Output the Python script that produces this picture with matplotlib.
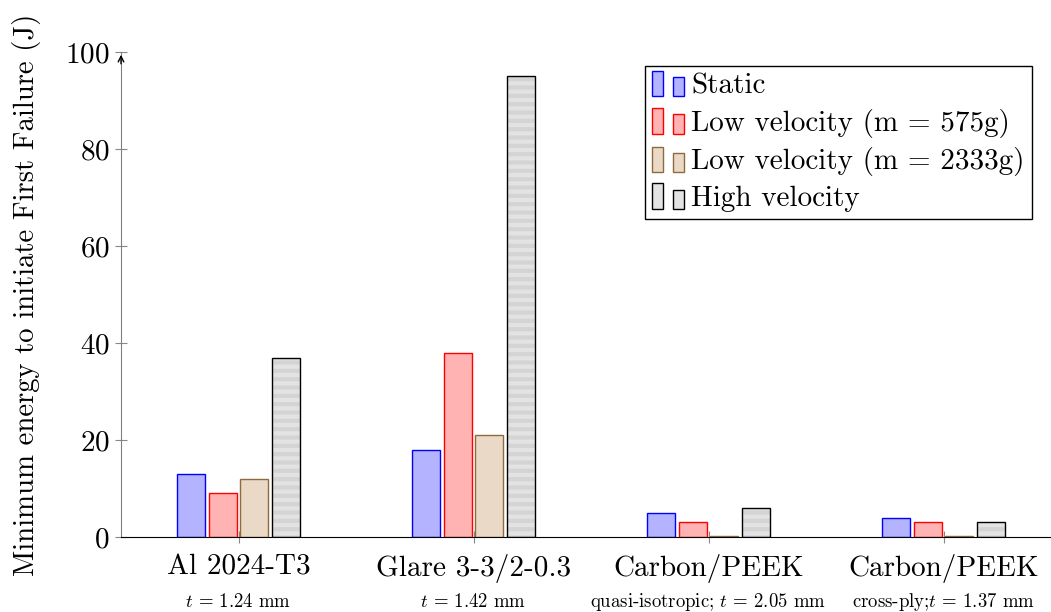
import matplotlib
matplotlib.use("Agg")
import matplotlib.pyplot as plt
from matplotlib.patches import Rectangle
from matplotlib.legend_handler import HandlerBase
import numpy as np

plt.rcParams['font.family'] = ['cmr10', 'DejaVu Serif']
plt.rcParams['mathtext.fontset'] = 'cm'
plt.rcParams['axes.formatter.use_mathtext'] = True
plt.rcParams['hatch.linewidth'] = 3.0

materials = ["Al 2024-T3", "Glare 3-3/2-0.3", "Carbon/PEEK", "Carbon/PEEK"]
thickness = [r"$t$ = 1.24 mm", r"$t$ = 1.42 mm",
             r"quasi-isotropic; $t$ = 2.05 mm", r"cross-ply;$t$ = 1.37 mm"]
series = ["Static", "Low velocity (m = 575g)", "Low velocity (m = 2333g)", "High velocity"]
static = [13, 18, 5, 4]
low_575 = [9, 38, 3, 3]
low_2333 = [12, 21, 0, 0]
high = [37, 95, 6, 3]

fills = ["#b3b3ff", "#ffb3b3", "#ead9c6", "#e3e3e3"]
edges = ["#0000ff", "#ff0000", "#8f6a3c", "#000000"]

fig = plt.figure(figsize=(10.51, 6.12), dpi=100)
ax = fig.add_axes([121/1051, 75/612, 940/1051, 485/612])

x = np.arange(len(materials))
w = 0.119
step = 0.136
data = [static, low_575, low_2333, high]
for i, vals in enumerate(data):
    pos = x + (i - 1.5) * step
    if i == 3:
        ax.bar(pos, vals, w, color=fills[i], edgecolor="#d4d4d4", hatch="--", linewidth=0, zorder=2)
        ax.bar(pos, vals, w, fill=False, edgecolor=edges[i], linewidth=1.0, zorder=3)
    else:
        # zero bars still show as a thin line on the axis
        ax.bar(pos, [v if v > 0 else 0.12 for v in vals], w, color=fills[i],
               edgecolor=edges[i], linewidth=1.0, zorder=2)

ax.set_xlim(-0.5, 3.5)
ax.set_ylim(0, 100)
ax.set_yticks([0, 20, 40, 60, 80, 100])
ax.set_xticks(x)
ax.set_xticklabels(materials, fontsize=21)
ax.tick_params(axis='y', labelsize=21, direction='inout', length=8, color='#888888', pad=4)
ax.tick_params(axis='x', direction='inout', length=8, color='#888888', pad=8)
for s in ['top', 'right']:
    ax.spines[s].set_visible(False)
ax.spines['left'].set_color('#808080')
ax.spines['bottom'].set_color('black')
ax.annotate('', xy=(0, 1.0), xytext=(0, 0.97), xycoords='axes fraction',
            arrowprops=dict(arrowstyle='->', color='black', lw=1.0))

for xi, t in zip(x, thickness):
    ax.text(xi, -0.134, t, transform=ax.get_xaxis_transform(), ha='center', va='center', fontsize=13.5)

ax.set_ylabel("Minimum energy to initiate First Failure (J)", fontsize=20.7)
ax.yaxis.set_label_coords(-0.085, 0.5)


class TwoBars(HandlerBase):
    def create_artists(self, legend, orig, xd, yd, width, height, fontsize, trans):
        arts = []
        for dx, hh in [(0, 1.25), (0.6, 0.95)]:
            r = Rectangle((xd + dx * width, yd - 2), width * 0.32, height * hh,
                          facecolor=orig.get_facecolor(), edgecolor=orig.get_edgecolor(),
                          lw=1.0, transform=trans)
            arts.append(r)
        return arts


handles = [Rectangle((0, 0), 1, 1, facecolor=fills[i], edgecolor=edges[i]) for i in range(4)]
leg = fig.legend(handles, series, loc='upper right', bbox_to_anchor=(1032/1051, 1 - 66/612),
                 fontsize=21, frameon=True, fancybox=False, edgecolor='black', framealpha=1,
                 handler_map={Rectangle: TwoBars()}, handlelength=1.2, handletextpad=0.15,
                 borderpad=0.25, labelspacing=0.32, borderaxespad=0)
leg.get_frame().set_linewidth(1.0)

fig.savefig("out.png", dpi=100)
